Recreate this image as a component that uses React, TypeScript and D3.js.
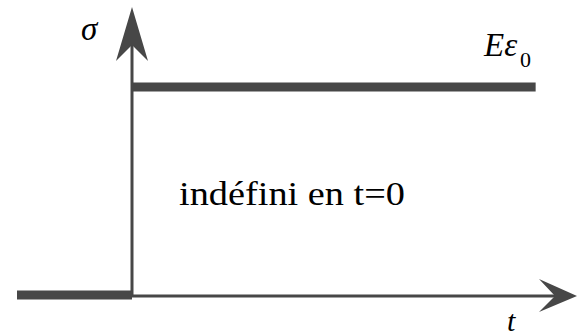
import React from "react";
import * as d3 from "d3";

const W = 577;
const H = 336;

// step response: sigma(t) = 0 for t<0, E*eps0 for t>0
const tBefore = [-1, 0];
const sigmaBefore = [0, 0];
const tAfter = [0, 3.51];
const sigmaAfter = [1, 1];
const levelLabel = "Eε";
const levelSub = "0";
const noteLabel = "indéfini en t=0";
const xAxisLabel = "t";
const yAxisLabel = "σ";

const x = d3.scaleLinear().domain([-1, 0]).range([17, 132]);
const y = d3.scaleLinear().domain([0, 1]).range([295, 87]);

const INK = "#474747";
const SERIF = "Times New Roman";

export default function App() {
  const line = d3
    .line<[number, number]>()
    .x((d) => x(d[0]))
    .y((d) => y(d[1]));
  const before = tBefore.map((t, i) => [t, sigmaBefore[i]] as [number, number]);
  const after = tAfter.map((t, i) => [t, sigmaAfter[i]] as [number, number]);
  const x0 = x(0);
  const y0 = y(0);
  return (
    <svg width={W} height={H} style={{ display: "block", position: "absolute", left: 0, top: 0 }}>
      <rect width={W} height={H} fill="#fff" />
      <line x1={x0} y1={y0 + 1} x2={x0} y2={40} stroke={INK} strokeWidth={3} />
      <path d={`M${x0},7 L${x0 + 16},61 L${x0},45 L${x0 - 16},61 Z`} fill={INK} />
      <line x1={x0} y1={y0 + 1} x2={560} y2={y0 + 1} stroke={INK} strokeWidth={3} />
      <path d={`M577,${y0 + 1} L539,${y0 - 16} L555,${y0 + 1} L539,${y0 + 17} Z`} fill={INK} />
      <path d={line(before) || ""} fill="none" stroke={INK} strokeWidth={9} />
      <path d={line(after) || ""} fill="none" stroke={INK} strokeWidth={9} />
      <text x={81} y={40} fontFamily={SERIF} fontStyle="italic" fontSize={33} fill="#000">
        {yAxisLabel}
      </text>
      <text x={484} y={56} fontFamily={SERIF} fontStyle="italic" fontSize={33} fill="#000">
        {levelLabel}
      </text>
      <text x={520} y={67} fontFamily={SERIF} fontSize={22} fill="#000">
        {levelSub}
      </text>
      <text x={507} y={331} fontFamily={SERIF} fontStyle="italic" fontSize={30} fill="#000">
        {xAxisLabel}
      </text>
      <text
        x={179}
        y={205}
        fontFamily={SERIF}
        fontSize={33}
        fill="#000"
        textLength={226}
        lengthAdjust="spacingAndGlyphs"
      >
        {noteLabel}
      </text>
    </svg>
  );
}
